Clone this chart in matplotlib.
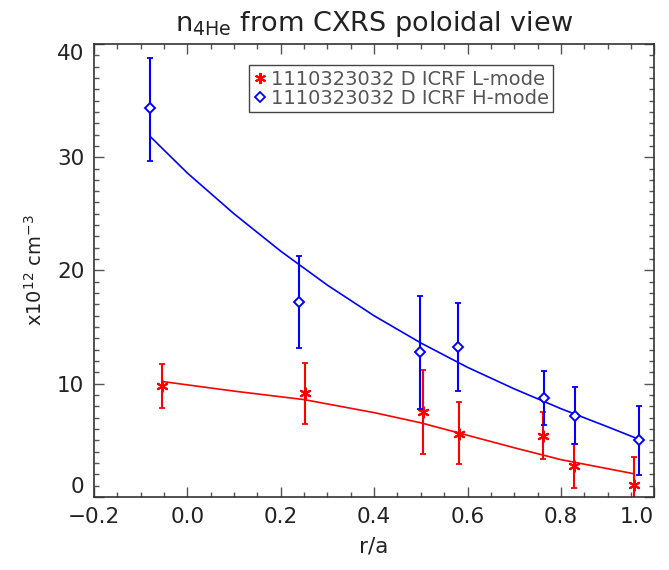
import matplotlib
matplotlib.use("Agg")
import matplotlib.pyplot as plt
from matplotlib.lines import Line2D
import numpy as np

plt.rcParams['font.family'] = ['DejaVu Sans']
plt.rcParams['mathtext.default'] = 'regular'

# L-mode (red) profile: r/a, density, error-bar bottom and top
r_L = np.array([-0.054, 0.251, 0.504, 0.582, 0.762, 0.828, 0.957])
n_L = np.array([9.83, 9.15, 7.5, 5.6, 5.36, 2.74, 1.05])
lo_L = np.array([7.89, 6.47, 3.82, 2.89, 3.4, 0.78, -1.5])
hi_L = np.array([11.74, 11.86, 11.2, 8.37, 7.5, 4.7, 3.52])

# H-mode (blue) profile
r_H = np.array([-0.079, 0.240, 0.499, 0.580, 0.764, 0.831, 0.967])
n_H = np.array([34.3, 17.19, 12.77, 13.23, 8.71, 7.17, 5.02])
lo_H = np.array([29.7, 13.18, 7.77, 9.36, 6.32, 4.64, 1.95])
hi_H = np.array([38.74, 21.28, 17.75, 17.14, 11.12, 9.67, 8.07])

# Fitted profiles
fit_r_L = np.array([-0.054, 0.1, 0.25, 0.4, 0.5, 0.6, 0.7, 0.8, 0.957])
fit_n_L = np.array([10.2, 9.35, 8.6, 7.45, 6.55, 5.45, 4.35, 3.3, 2.05])
fit_r_H = np.array([-0.079, 0.0, 0.1, 0.2, 0.3, 0.4, 0.5, 0.6, 0.7, 0.8, 0.9, 0.967])
fit_n_H = np.array([31.8, 28.6, 25.0, 21.7, 18.7, 16.0, 13.6, 11.45, 9.55, 7.8, 6.2, 5.1])

legend_labels = ['1110323032 D ICRF L-mode', '1110323032 D ICRF H-mode']
xticks = [-0.2, 0.0, 0.2, 0.4, 0.6, 0.8, 1.0]
xticklabels = ['\u22120.2', '0.0', '0.2', '0.4', '0.6', '0.8', '1.0']
yticks = [0, 10, 20, 30, 40]
yticklabels = ['0', '10', '20', '30', '40']

RED = '#ff0000'
BLUE = '#0000ff'
INK = '#222222'

fig = plt.figure(figsize=(6.69, 5.70), dpi=100)
ax = fig.add_axes([0.1405, 0.128, 0.8375, 0.795])

asterisk = (6, 2, 0)

# L-mode
ax.plot(fit_r_L, fit_n_L, color=RED, lw=1.2)
ax.errorbar(r_L, n_L, yerr=[n_L - lo_L, hi_L - n_L], fmt='none',
            ecolor=RED, elinewidth=1.5, capsize=2.3, capthick=1.3)
ax.plot(r_L, n_L, linestyle='none', marker=asterisk, ms=8.5, mew=1.5, color=RED)

# H-mode
ax.plot(fit_r_H, fit_n_H, color=BLUE, lw=1.2)
ax.errorbar(r_H, n_H, yerr=[n_H - lo_H, hi_H - n_H], fmt='none',
            ecolor=BLUE, elinewidth=1.5, capsize=2.3, capthick=1.3)
ax.plot(r_H, n_H, linestyle='none', marker='D', ms=5.5, mew=1.4,
        mfc='white', mec=BLUE)

ax.set_xlim(-0.2, 1.0)
ax.set_ylim(0, 40)
ax.set_xticks(xticks)
ax.set_xticklabels(xticklabels)
ax.set_yticks(yticks)
ax.set_yticklabels(yticklabels)
ax.set_xticks(np.arange(-0.2, 1.0001, 0.05), minor=True)
ax.set_yticks(np.arange(0, 40.001, 1), minor=True)

ax.tick_params(which='both', direction='in', top=True, right=True,
               colors='#555555', labelcolor=INK, labelsize=15.5, width=1.0)
ax.tick_params(which='major', length=7.5, pad=7)
ax.tick_params(which='minor', length=3.6)
for s in ax.spines.values():
    s.set_color('#333333')
    s.set_linewidth(1.2)

# keep the end labels inside the axis span
ylabs = ax.get_yticklabels()
ylabs[0].set_va('bottom')
ylabs[-1].set_va('top')
xlabs = ax.get_xticklabels()
xlabs[-1].set_ha('right')

ax.set_xlabel('r/a', fontsize=15.5, color=INK, labelpad=7)
ax.set_ylabel(r'x10$^{12}$ cm$^{-3}$', fontsize=14, color=INK, labelpad=8)
ax.set_title(r'n$_{4He}$ from CXRS poloidal view', fontsize=19.5, color=INK, pad=9)

handles = [
    Line2D([], [], linestyle='none', marker=asterisk, ms=8, mew=1.5, color=RED),
    Line2D([], [], linestyle='none', marker='D', ms=5, mew=1.3, mfc='white', mec=BLUE),
]
leg = ax.legend(handles, legend_labels, loc='upper left',
                bbox_to_anchor=(0.277, 0.954), borderaxespad=0,
                fontsize=14, handlelength=0.6, handletextpad=0.25,
                borderpad=0.25, labelspacing=0.0, fancybox=False,
                framealpha=1, edgecolor='#444444', labelcolor='#555555')
leg.get_frame().set_linewidth(1.0)

fig.savefig('out.png', dpi=100)
